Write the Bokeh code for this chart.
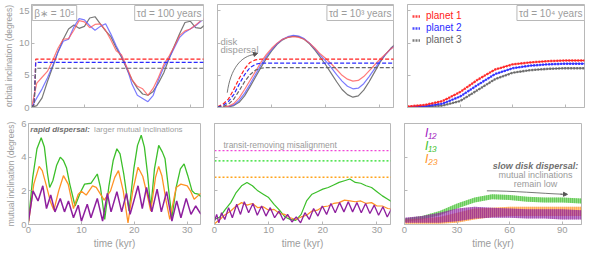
from bokeh.plotting import figure
from bokeh.layouts import column, row
from bokeh.models import Label, Arrow, NormalHead, Legend, LegendItem, FixedTicker, Range1d
from bokeh.embed import file_html
from bokeh.resources import INLINE

# ---------------- data ----------------
t_kyr = [0, 1, 2, 3, 4, 5, 6, 7, 8, 9, 10, 11, 12, 13, 14, 15, 16, 17, 18, 19, 20,
         21, 22, 23, 24, 25, 26, 27, 28, 29, 30, 31, 32, 33]

# tau_d = 100 yr: orbital inclinations (deg)
inc1_fast = [0, 3.8, 4.7, 5.6, 7.3, 9.2, 10.6, 10.7, 12.0, 13.5, 13.3, 12.4, 12.9, 13.0, 12.0, 10.5, 8.8,
             8.2, 6.3, 4.3, 3.3, 2.9, 1.9, 3.0, 4.7, 6.7, 8.0, 9.5, 11.2, 11.9, 12.2, 12.8, 13.5, 14.0]
inc2_fast = [0, 1.5, 2.9, 4.6, 6.5, 8.6, 10.3, 10.6, 12.5, 13.8, 13.6, 12.7, 12.0, 12.6, 13.0, 11.4, 9.6,
             8.0, 6.2, 3.6, 1.9, 1.4, 0.9, 1.9, 4.3, 6.3, 7.6, 9.3, 10.9, 11.7, 12.2, 12.7, 13.4, 13.9]
inc3_fast = [0, 0.3, 1.5, 4.0, 6.3, 8.6, 10.6, 12.2, 12.8, 12.3, 12.6, 13.9, 14.1, 13.0, 11.9, 11.0, 9.3,
             7.8, 6.0, 4.3, 3.0, 2.1, 1.9, 2.5, 3.8, 5.4, 7.6, 9.6, 11.5, 13.2, 13.4, 12.4, 12.3, 13.0]
t_step = [0.0, 0.5, 0.8, 33.0]
plane1_fast = [0.0, 0.5, 7.5, 7.5]
plane2_fast = [0.0, 0.5, 7.0, 7.0]
plane3_fast = [0.0, 0.4, 6.1, 6.1]

# tau_d = 10^3 yr
inc1_mid = [0, 0.05, 0.2, 0.6, 1.5, 2.8, 4.2, 5.6, 7.0, 8.2, 9.2, 10.0, 10.6, 10.9, 11.0, 10.9, 10.6,
            10.0, 9.2, 8.3, 7.6, 6.8, 5.9, 5.0, 4.4, 4.1, 4.2, 4.8, 5.7, 6.6, 7.5, 8.3, 9.1, 9.7]
inc2_mid = [0, 0.03, 0.15, 0.4, 1.1, 2.2, 3.6, 5.1, 6.6, 7.9, 9.0, 9.9, 10.6, 11.0, 11.2, 11.1, 10.7,
            10.0, 9.1, 8.1, 7.2, 6.2, 5.1, 4.1, 3.3, 2.9, 3.0, 3.7, 4.8, 6.0, 7.2, 8.2, 9.1, 9.8]
inc3_mid = [0, 0.02, 0.1, 0.3, 0.8, 1.8, 3.2, 4.7, 6.2, 7.6, 8.8, 9.8, 10.5, 10.9, 11.1, 11.0, 10.6,
            9.9, 8.9, 7.8, 6.6, 5.3, 4.0, 2.8, 2.0, 1.6, 1.8, 2.7, 4.0, 5.5, 7.0, 8.2, 9.2, 10.0]
t_disk = [0, 1, 2, 3, 4, 5, 6, 7, 8, 9, 33]
plane1_mid = [0.1, 0.5, 1.3, 2.8, 4.5, 6.0, 7.0, 7.4, 7.5, 7.5, 7.5]
plane2_mid = [0.05, 0.3, 0.9, 2.0, 3.6, 5.1, 6.2, 6.7, 6.9, 6.9, 6.9]
plane3_mid = [0.02, 0.15, 0.5, 1.3, 2.6, 4.0, 5.1, 5.8, 6.1, 6.2, 6.2]

# tau_d = 10^4 yr
t_slow = [0, 10, 20, 30, 40, 50, 60, 70, 80, 90, 101]
inc1_slow = [0.15, 0.4, 1.0, 2.4, 4.3, 5.9, 6.7, 7.0, 7.2, 7.3, 7.3]
inc2_slow = [0.05, 0.2, 0.6, 1.7, 3.5, 5.2, 6.1, 6.5, 6.7, 6.8, 6.8]
inc3_slow = [0.02, 0.1, 0.3, 1.0, 2.7, 4.4, 5.4, 5.8, 6.0, 6.1, 6.1]

# mutual inclinations, rapid dispersal
t_i12_fast = [0, 0.85, 1.8, 2.7, 3.4, 4.2, 5.0, 6.0, 6.8, 7.55, 8.5, 9.4, 10.0, 11.1, 11.8, 13.0, 14.0,
              14.9, 15.6, 16.7, 17.6, 18.5, 19.2, 20.7, 21.5, 22.3, 23.3, 24.3, 25.1, 26.1, 27.1, 28.0,
              28.8, 29.8, 30.7, 31.6, 32.5, 33.0]
i12_fast = [0.2, 2.0, 1.4, 2.3, 0.95, 1.75, 0.75, 1.55, 0.75, 1.4, 0.4, 1.15, 0.2, 1.2, 0.4, 1.55, 0.2,
            1.85, 0.75, 1.95, 0.75, 1.85, 0.6, 2.3, 0.95, 2.2, 0.75, 2.1, 0.75, 1.95, 0.2, 1.4, 0.4,
            1.55, 0.6, 1.1, 0.65, 0.6]
t_i13_fast = [0, 0.8, 1.6, 2.4, 3.0, 3.6, 4.0, 4.6, 5.3, 6.0, 6.6, 7.2, 7.8, 8.8, 9.8, 10.6, 11.8, 13.0,
              13.6, 14.4, 15.2, 16.0, 16.7, 17.3, 18.0, 19.0, 19.9, 20.6, 21.3, 21.9, 22.5, 23.1, 23.8,
              24.6, 25.3, 25.8, 26.5, 27.1, 27.9, 28.7, 29.4, 30.1, 30.9, 31.4, 32.1, 32.6, 33.0]
i13_fast = [0.2, 2.8, 4.5, 5.15, 4.6, 3.0, 2.2, 2.6, 3.5, 4.0, 3.8, 3.35, 2.4, 1.1, 1.9, 2.4, 2.45, 3.0,
            2.2, 0.3, 2.3, 3.8, 4.5, 4.2, 3.0, 0.8, 3.3, 4.7, 5.3, 4.6, 3.0, 0.95, 3.3, 4.7, 4.3, 3.9,
            2.0, 0.4, 2.2, 3.3, 3.6, 2.9, 2.0, 1.85, 1.8, 1.65, 1.7]
t_i23_fast = [0, 1.0, 2.0, 2.6, 3.3, 4.2, 4.8, 5.7, 6.6, 7.5, 8.5, 9.4, 10.0, 10.9, 12.1, 12.8, 14.3,
              15.5, 16.3, 17.0, 17.9, 18.8, 19.7, 20.7, 21.6, 22.4, 23.1, 24.0, 24.6, 25.2, 26.0, 26.7,
              27.9, 28.8, 30.0, 30.6, 31.3, 32.0, 32.5, 33.0]
i23_fast = [0.1, 2.4, 3.45, 3.2, 2.4, 1.3, 0.85, 2.0, 2.9, 2.4, 0.95, 1.8, 1.97, 1.75, 2.3, 2.2, 1.45,
            2.0, 2.8, 3.2, 2.0, 0.1, 2.0, 3.4, 2.85, 1.8, 0.8, 2.8, 3.45, 2.9, 1.4, 0.3, 2.2, 2.4, 2.3,
            2.0, 1.5, 1.7, 1.85, 1.7]

# mutual inclinations, tau_d = 10^3 yr
t_i12_mid = [0, 0.4, 0.8, 1.3, 1.9, 2.6, 3.3, 4.1, 4.8, 5.5, 6.3, 7.1, 7.9, 8.7, 9.5, 10.3, 11.1, 11.9,
             12.7, 13.5, 14.3, 15.1, 15.9, 16.7, 17.5, 18.3, 19.1, 19.9, 20.7, 21.5, 22.3, 23.1, 23.9,
             24.7, 25.5, 26.3, 27.1, 27.9, 28.7, 29.5, 30.3, 31.1, 31.9, 32.7, 33.2]
i12_mid = [0.2, 0.6, 0.1, 0.7, 0.3, 1.0, 0.4, 1.2, 0.6, 1.35, 0.7, 1.25, 0.55, 1.1, 0.5, 1.0, 0.4, 0.8,
           0.25, 0.6, 0.15, 0.45, 0.1, 0.7, 0.3, 0.95, 0.5, 1.1, 0.6, 1.25, 0.7, 1.3, 0.75, 1.35, 0.75,
           1.3, 0.7, 1.25, 0.65, 1.15, 0.55, 1.05, 0.45, 0.95, 0.5]
i13_mid = [0.3, 0.45, 0.9, 1.3, 1.9, 2.3, 2.5, 2.3, 2.0, 1.8, 1.6, 1.2, 0.85, 0.45, 0.3, 0.25, 0.6,
           1.4, 1.8, 1.95, 2.1, 2.2, 2.35, 2.5, 2.6, 2.7, 2.5, 2.45, 2.3, 2.2, 1.95, 1.7, 1.5, 1.3]
i23_mid = [0.05, 0.3, 0.6, 0.8, 1.1, 1.3, 1.15, 1.25, 1.0, 1.05, 0.85, 0.9, 0.65, 0.6, 0.4, 0.3, 0.45,
           0.55, 0.8, 0.85, 1.05, 1.1, 1.25, 1.3, 1.45, 1.4, 1.35, 1.4, 1.25, 1.3, 1.1, 1.1, 0.95, 0.9]
t_limit = [0, 33]
limit12 = [4.39, 4.39]
limit13 = [3.78, 3.78]
limit23 = [2.81, 2.81]

# mutual inclinations, tau_d = 10^4 yr (envelopes of the fast oscillation)
i12_slow_lo = [0.1, 0.1, 0.1, 0.2, 0.35, 0.4, 0.4, 0.35, 0.35, 0.3, 0.3]
i12_slow_hi = [0.4, 0.5, 0.7, 0.95, 1.05, 1.0, 0.95, 0.9, 0.9, 0.9, 0.85]
i13_slow_lo = [0.15, 0.3, 0.55, 0.95, 1.3, 1.5, 1.45, 1.35, 1.3, 1.3, 1.25]
i13_slow_hi = [0.35, 0.5, 0.8, 1.25, 1.6, 1.8, 1.75, 1.65, 1.6, 1.6, 1.55]
i23_slow_lo = [0.05, 0.05, 0.05, 0.1, 0.3, 0.45, 0.5, 0.5, 0.5, 0.5, 0.5]
i23_slow_hi = [0.3, 0.35, 0.45, 0.7, 0.95, 1.0, 1.05, 1.05, 1.05, 1.05, 1.05]

ticks_kyr = [0, 10, 20, 30]
ticks_slow = [0, 30, 60, 90]
ticks_inc = [0, 5, 10, 15]
ticks_mut = [0, 2, 4, 6]

# ---------------- style ----------------
FONT = "Liberation Sans"
GRAY = "#9c9c9c"
FRAME = "#b8b8b8"
RED, BLUE, DGRAY = "#ff2020", "#2a2aff", "#666666"
PURPLE, GREEN, ORANGE = "#8e1f9e", "#3cbf2a", "#ff9224"


def panel(fw, fh, xr, yr, xticks, yticks, left, right, top, bottom,
          xlab=False, ylab=False, xlabel=None, ylabel=None):
    p = figure(frame_width=fw, frame_height=fh, x_range=Range1d(*xr), y_range=Range1d(*yr),
               output_backend="svg", toolbar_location=None,
               min_border_left=left, min_border_right=right,
               min_border_top=top, min_border_bottom=bottom)
    p.outline_line_color = FRAME
    p.grid.visible = False
    p.background_fill_color = "white"
    p.border_fill_color = "white"
    p.xaxis.ticker = FixedTicker(ticks=xticks)
    p.yaxis.ticker = FixedTicker(ticks=yticks)
    for ax in (p.xaxis[0], p.yaxis[0]):
        ax.axis_line_color = FRAME
        ax.major_tick_line_color = FRAME
        ax.major_tick_in = 3
        ax.major_tick_out = 0
        ax.minor_tick_line_color = None
        ax.major_label_text_font = FONT
        ax.major_label_text_font_size = "9.5px"
        ax.major_label_text_color = GRAY
        ax.major_label_standoff = 2
        ax.axis_label_text_font = FONT
        ax.axis_label_text_font_style = "normal"
        ax.axis_label_text_color = GRAY
        ax.axis_label_standoff = 2
    p.xaxis.axis_label_text_font_size = "10px"
    p.yaxis.axis_label_text_font_size = "8.5px"
    if not xlab:
        p.xaxis.major_label_text_font_size = "0px"
        p.xaxis.major_label_standoff = 0
    if not ylab:
        p.yaxis.major_label_text_font_size = "0px"
        p.yaxis.major_label_standoff = 0
    if xlabel:
        p.xaxis.axis_label = xlabel
    if ylabel:
        p.yaxis.axis_label = ylabel
    return p


def box(p, x, y, text, align):
    p.add_layout(Label(x=x, y=y, text=text, text_font=FONT, text_font_size="10px",
                       text_color=GRAY, text_baseline="top", text_align=align,
                       border_line_color=FRAME, background_fill_color="white",
                       padding=2, y_offset=-1))


def txt(p, x, y, text, size="9px", style="normal", color=GRAY, align="left"):
    p.add_layout(Label(x=x, y=y, text=text, text_font=FONT, text_font_size=size,
                       text_font_style=style, text_color=color, text_baseline="middle",
                       text_align=align))


def legend(p, r, text, color, x, y, size="10px", style="normal", lh=10, standoff=6):
    p.add_layout(Legend(items=[LegendItem(label=text, renderers=[r])], location=(x, y),
                        label_text_color=color, label_text_font=FONT,
                        label_text_font_size=size, label_text_font_style=style,
                        border_line_color=None, background_fill_alpha=0, padding=0,
                        margin=0, spacing=0, glyph_width=8, glyph_height=lh,
                        label_height=lh, label_standoff=standoff))


TOPH, BOTH = 103, 101
XR = (0, 32.5)
XS = (0, 101)

# ---- top row ----
a1 = panel(172, TOPH, XR, (0, 16), ticks_kyr, ticks_inc, 28, 7, 4, 10, ylab=True,
           ylabel="orbital inclination (degrees)")
for ys, c in ((inc3_fast, "#555555"), (inc2_fast, "#5a5aff"), (inc1_fast, "#ff5a5a")):
    a1.line(t_kyr, ys, line_color=c, line_width=1.2, line_alpha=0.8)
for ys, c in ((plane1_fast, RED), (plane2_fast, BLUE), (plane3_fast, DGRAY)):
    a1.line(t_step, ys, line_color=c, line_width=1.2, line_dash="4 2")
box(a1, 0.15, 16, "β\u2217 = 10\u2075", "left")
box(a1, 32.5, 16, "τd = 100 years", "right")

a2 = panel(176, TOPH, XR, (0, 16), ticks_kyr, ticks_inc, 7, 7, 4, 10)
for ys, c in ((inc3_mid, "#555555"), (inc2_mid, "#5a5aff"), (inc1_mid, "#ff5a5a")):
    a2.line(t_kyr, ys, line_color=c, line_width=1.2, line_alpha=0.8)
for ys, c in ((plane1_mid, RED), (plane2_mid, BLUE), (plane3_mid, DGRAY)):
    a2.line(t_disk, ys, line_color=c, line_width=1.2, line_dash="4 2")
box(a2, 32.5, 16, "τd = 10\u00b3 years", "right")
txt(a2, 0.55, 10.3, "disk", size="9.5px")
txt(a2, 0.55, 9.0, "dispersal", size="9.5px")
a2.bezier(x0=[1.8], y0=[2.3], x1=[6.9], y1=[8.25], cx0=[2.4], cy0=[6.0], cx1=[4.3], cy1=[8.0],
          line_color="#555555", line_width=0.8)
a2.add_layout(Arrow(end=NormalHead(size=4, fill_color="#555555", line_color="#555555"),
                    x_start=6.5, y_start=8.2, x_end=7.4, y_end=8.4,
                    line_color="#555555", line_width=0.8))

a3 = panel(177, TOPH, XS, (0, 16), ticks_slow, ticks_inc, 7, 1, 4, 10)
rs = []
for ys, c in ((inc3_slow, DGRAY), (inc2_slow, BLUE), (inc1_slow, RED)):
    a3.line(t_slow, ys, line_color=c, line_width=1.0)
    rs.append(a3.line(t_slow, ys, line_color=c, line_width=2.4, line_dash="2 1", line_alpha=0.85))
box(a3, 101, 16, "τd = 10\u2074 years", "right")
legend(a3, rs[2], "planet 1", RED, 5, TOPH - 12 - 5)
legend(a3, rs[1], "planet 2", BLUE, 5, TOPH - 24 - 5)
legend(a3, rs[0], "planet 3", DGRAY, 5, TOPH - 36 - 5)

# ---- bottom row ----
b1 = panel(172, BOTH, XR, (0, 6), ticks_kyr, ticks_mut, 28, 7, 6, 27, xlab=True, ylab=True,
           xlabel="time (kyr)", ylabel="mutual inclination (degrees)")
b1.line(t_i13_fast, i13_fast, line_color=GREEN, line_width=1.3)
b1.line(t_i23_fast, i23_fast, line_color=ORANGE, line_width=1.3)
b1.line(t_i12_fast, i12_fast, line_color=PURPLE, line_width=1.5)
txt(b1, 0.35, 5.65, "rapid dispersal:", size="8px", style="bold italic", color="#707070")
txt(b1, 12.4, 5.65, "larger mutual inclinations", size="8px", color="#a0a0a0")

b2 = panel(176, BOTH, XR, (0, 6), ticks_kyr, ticks_mut, 7, 7, 6, 27, xlab=True,
           xlabel="time (kyr)")
b2.line(t_limit, limit12, line_color="#f046d8", line_width=1.4, line_dash="2 2")
b2.line(t_limit, limit13, line_color="#22dd22", line_width=1.4, line_dash="2 2")
b2.line(t_limit, limit23, line_color="#ffa41c", line_width=1.4, line_dash="2 2")
b2.line(t_kyr, i13_mid, line_color=GREEN, line_width=1.2)
b2.line(t_kyr, i23_mid, line_color=ORANGE, line_width=1.2)
b2.line(t_i12_mid, i12_mid, line_color=PURPLE, line_width=1.3)
txt(b2, 1.65, 4.71, "transit-removing misalignment", size="8.5px", color="#9a9a9a")

b3 = panel(177, BOTH, XS, (0, 6), ticks_slow, ticks_mut, 7, 1, 6, 27, xlab=True,
           xlabel="time (kyr)")
for lo, hi, c in ((i13_slow_lo, i13_slow_hi, GREEN), (i23_slow_lo, i23_slow_hi, ORANGE),
                  (i12_slow_lo, i12_slow_hi, PURPLE)):
    b3.varea(x=t_slow, y1=lo, y2=hi, fill_color=c, fill_alpha=0.55,
             hatch_pattern="vertical_line", hatch_color=c, hatch_scale=2, hatch_weight=1)
l12 = b3.line([], [], line_color="#a020c0", line_width=3)
l13 = b3.line([], [], line_color=GREEN, line_width=3)
l23 = b3.line([], [], line_color=ORANGE, line_width=3)
legend(b3, l12, "I\u2081\u2082", "#a020c0", 4, BOTH - 11 - 6, size="12px", style="italic", lh=12, standoff=9)
legend(b3, l13, "I\u2081\u2083", GREEN, 4, BOTH - 24 - 6, size="12px", style="italic", lh=12, standoff=9)
legend(b3, l23, "I\u2082\u2083", ORANGE, 4, BOTH - 37 - 6, size="12px", style="italic", lh=12, standoff=9)
txt(b3, 74.7, 3.49, "slow disk dispersal:", style="bold italic", color="#707070", align="center")
txt(b3, 74.7, 2.95, "mutual inclinations", color="#9a9a9a", align="center")
txt(b3, 74.7, 2.40, "remain low", color="#9a9a9a", align="center")
b3.bezier(x0=[47], y0=[2.0], x1=[90], y1=[1.8], cx0=[62], cy0=[2.0], cx1=[78], cy1=[1.85],
          line_color="#555555", line_width=0.8)
b3.add_layout(Arrow(end=NormalHead(size=4, fill_color="#555555", line_color="#555555"),
                    x_start=89, y_start=1.8, x_end=93, y_end=1.79,
                    line_color="#555555", line_width=0.8))

layout = column(row(a1, a2, a3), row(b1, b2, b3))
open("out.html", "w").write(file_html(layout, INLINE))
